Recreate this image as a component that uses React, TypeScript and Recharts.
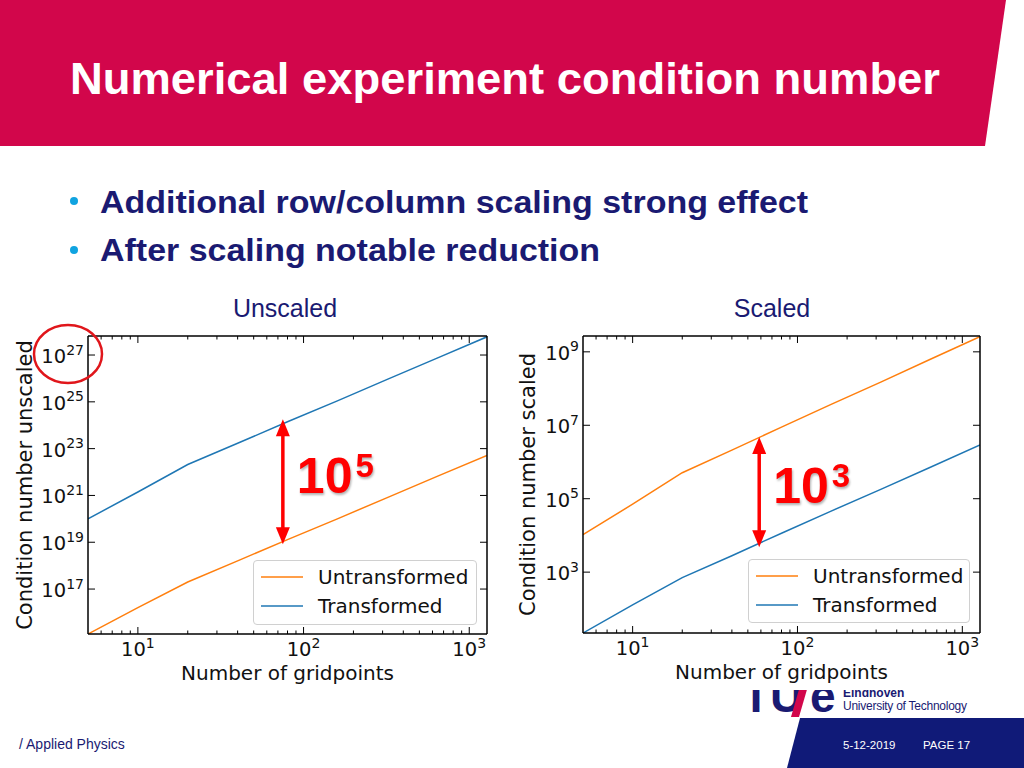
import React from 'react';
import { LineChart, Line, XAxis, YAxis, ReferenceLine, Legend } from 'recharts';

// gridpoints (doubling) and condition numbers
const gridpoints = [5, 10, 20, 40, 80, 160, 320, 640, 1280];
const unscaledUntransformed = [1.2e15, 1.6e16, 2.0e17, 1.6e18, 1.3e19, 1.0e20, 8.1e20, 6.5e21, 5.1e22];
const unscaledTransformed = [1.0e20, 1.4e21, 2.1e22, 1.7e23, 1.4e24, 1.1e25, 9.1e25, 7.4e26, 6.0e27];
const scaledUntransformed = [1.05e4, 7.1e4, 5.1e5, 2.1e6, 8.9e6, 3.7e7, 1.5e8, 6.3e8, 2.6e9];
const scaledTransformed = [22, 129, 708, 2.8e3, 1.15e4, 4.6e4, 1.8e5, 7.2e5, 2.9e6];

const seriesNames = ['Untransformed', 'Transformed'];
const seriesColors = ['#ff7f0e', '#1f77b4'];

const xDomain = [5, 1280];
const xMajorTicks = [10, 100, 1000];
const xMinorTicks = [6, 7, 8, 9, 20, 30, 40, 50, 60, 70, 80, 90, 200, 300, 400, 500, 600, 700, 800, 900];
const unscaledYDomain = [1.2e15, 6.5e27];
const unscaledYTicks = [1e17, 1e19, 1e21, 1e23, 1e25, 1e27];
const scaledYDomain = [22, 2.7e9];
const scaledYTicks = [1e3, 1e5, 1e7, 1e9];

// red annotation arrows: gridpoint, top and bottom of the arrow, exponent shown
const unscaledArrow = { x: 75, from: 1.8e24, to: 8.3e18, exponent: '5' };
const scaledArrow = { x: 58.6, from: 4.8e6, to: 4.8e3, exponent: '3' };

const NAVY = '#1a1a72';
const TICK_FONT = '"DejaVu Sans", sans-serif';

const allXTicks = [...xMajorTicks, ...xMinorTicks].sort((a, b) => a - b);
const expOf = (v: number) => Math.round(Math.log10(v));

const PowerLabel = ({ x, y, v, anchor }: any) => (
  <text x={x} y={y} textAnchor={anchor} fontFamily={TICK_FONT} fontSize={19.5} fill="#111">
    10<tspan fontSize={14} dy={-8.5}>{expOf(v)}</tspan>
  </text>
);

const BottomTick = (props: any) => {
  const { x, y, payload } = props;
  const major = xMajorTicks.includes(payload.value);
  return (
    <g>
      <line x1={x} x2={x} y1={y} y2={y - (major ? 7 : 3.5)} stroke="#000" />
      {major && <PowerLabel x={x} y={y + 22} v={payload.value} anchor="middle" />}
    </g>
  );
};

const TopTick = (props: any) => {
  const { x, y, payload } = props;
  const major = xMajorTicks.includes(payload.value);
  return <line x1={x} x2={x} y1={y} y2={y + (major ? 7 : 3.5)} stroke="#000" />;
};

const LeftTick = (props: any) => {
  const { x, y, payload } = props;
  return (
    <g>
      <line x1={x} x2={x + 7} y1={y} y2={y} stroke="#000" />
      <PowerLabel x={x - 4} y={y + 8} v={payload.value} anchor="end" />
    </g>
  );
};

const RightTick = (props: any) => {
  const { x, y } = props;
  return <line x1={x} x2={x - 7} y1={y} y2={y} stroke="#000" />;
};

const ArrowShape = (props: any) => {
  const { x1, y1, y2, exponent } = props;
  const top = Math.min(y1, y2);
  const bottom = Math.max(y1, y2);
  const mid = (top + bottom) / 2;
  return (
    <g>
      <line x1={x1} x2={x1} y1={top + 12} y2={bottom - 12} stroke="#f00" strokeWidth={3.5} />
      <polygon points={`${x1},${top} ${x1 - 7},${top + 17} ${x1 + 7},${top + 17}`} fill="#f00" />
      <polygon points={`${x1},${bottom} ${x1 - 7},${bottom - 17} ${x1 + 7},${bottom - 17}`} fill="#f00" />
      <text
        x={x1 + 14}
        y={mid + 11}
        fontFamily='"Liberation Sans", Arial, sans-serif'
        fontWeight="bold"
        fontSize={50}
        fill="#f00"
        style={{ filter: 'drop-shadow(1px 2px 1px rgba(0,0,0,0.3))' }}
      >
        10<tspan fontSize={33} dx={3} dy={-16}>{exponent}</tspan>
      </text>
    </g>
  );
};

const renderLegend = (props: any) => {
  const items = [...(props.payload || [])]
    .filter((a: any) => seriesNames.includes(a.value))
    .sort((a: any, b: any) => seriesNames.indexOf(a.value) - seriesNames.indexOf(b.value));
  return (
    <div
      style={{
        position: 'relative',
        width: '100%',
        height: '100%',
        boxSizing: 'border-box',
        border: '1px solid #d0d0d0',
        borderRadius: 4,
        background: 'rgba(255,255,255,0.9)',
      }}
    >
      {items.map((item: any, i: number) => (
        <div key={item.value} style={{ position: 'absolute', left: 0, top: 4 + i * 29, height: 24, width: '100%' }}>
          <svg width={60} height={24} style={{ position: 'absolute', left: 0, top: 0 }}>
            <line x1={7} x2={49} y1={12} y2={12} stroke={item.color} strokeWidth={1.5} />
          </svg>
          <span
            style={{
              position: 'absolute',
              left: 64,
              top: 0,
              lineHeight: '24px',
              fontFamily: TICK_FONT,
              fontSize: 20,
              color: '#111',
              whiteSpace: 'nowrap',
            }}
          >
            {item.value}
          </span>
        </div>
      ))}
    </div>
  );
};

type PanelProps = {
  left: number;
  width: number;
  yAxisWidth: number;
  marginRight: number;
  bottomHeight: number;
  yLabel: string;
  yLabelX: number;
  untransformed: number[];
  transformed: number[];
  yDomain: number[];
  yTicks: number[];
  arrow: { x: number; from: number; to: number; exponent: string };
  legendBox: { left: number; top: number; width: number; height: number };
};

const Panel = (p: PanelProps) => {
  const data = gridpoints.map((n, i) => ({ n, Untransformed: p.untransformed[i], Transformed: p.transformed[i] }));
  return (
    <div style={{ position: 'absolute', left: p.left, top: 320, width: p.width, height: 370, background: '#fff' }}>
      <LineChart
        width={p.width}
        height={370}
        data={data}
        margin={{ top: 15, right: p.marginRight - 1, bottom: 0, left: 0 }}
      >
        <XAxis
          dataKey="n"
          type="number"
          scale="log"
          domain={xDomain}
          allowDataOverflow
          ticks={allXTicks}
          interval={0}
          height={p.bottomHeight}
          tickLine={false}
          tickSize={0}
          tickMargin={0}
          axisLine={{ stroke: '#000', strokeWidth: 1.5 }}
          tick={<BottomTick />}
          label={{
            content: (lp: any) => {
              const vb = lp.viewBox;
              return (
                <text x={vb.x + vb.width / 2} y={vb.y + 46} textAnchor="middle" fontFamily={TICK_FONT} fontSize={20} fill="#111">
                  Number of gridpoints
                </text>
              );
            },
          }}
        />
        <XAxis
          xAxisId="top"
          orientation="top"
          dataKey="n"
          type="number"
          scale="log"
          domain={xDomain}
          allowDataOverflow
          ticks={allXTicks}
          interval={0}
          height={1}
          tickLine={false}
          tickSize={0}
          tickMargin={0}
          axisLine={{ stroke: '#000', strokeWidth: 1.5 }}
          tick={<TopTick />}
        />
        <YAxis
          type="number"
          scale="log"
          domain={p.yDomain}
          allowDataOverflow
          ticks={p.yTicks}
          interval={0}
          width={p.yAxisWidth}
          tickLine={false}
          tickSize={0}
          tickMargin={0}
          axisLine={{ stroke: '#000', strokeWidth: 1.5 }}
          tick={<LeftTick />}
          label={{
            content: (lp: any) => {
              const vb = lp.viewBox;
              const cx = vb.x + p.yLabelX;
              const cy = vb.y + vb.height / 2;
              return (
                <text
                  x={cx}
                  y={cy}
                  transform={`rotate(-90, ${cx}, ${cy})`}
                  textAnchor="middle"
                  fontFamily={TICK_FONT}
                  fontSize={21}
                  fill="#111"
                >
                  {p.yLabel}
                </text>
              );
            },
          }}
        />
        <YAxis
          yAxisId="right"
          orientation="right"
          type="number"
          scale="log"
          domain={p.yDomain}
          allowDataOverflow
          ticks={p.yTicks}
          interval={0}
          width={1}
          tickLine={false}
          tickSize={0}
          tickMargin={0}
          axisLine={{ stroke: '#000', strokeWidth: 1.5 }}
          tick={<RightTick />}
        />
        <Legend
          layout="vertical"
          align="center"
          verticalAlign="middle"
          wrapperStyle={{ ...p.legendBox }}
          content={renderLegend}
        />
        {/* invisible copy bound to the top/right axes so the frame axes get drawn */}
        <Line
          xAxisId="top"
          yAxisId="right"
          dataKey="Transformed"
          name="frame"
          stroke="none"
          legendType="none"
          dot={false}
          activeDot={false}
          isAnimationActive={false}
        />
        {seriesNames.map((name, i) => (
          <Line
            key={name}
            dataKey={name}
            name={name}
            stroke={seriesColors[i]}
            strokeWidth={1.5}
            dot={false}
            activeDot={false}
            isAnimationActive={false}
          />
        ))}
        <ReferenceLine
          segment={[
            { x: p.arrow.x, y: p.arrow.from },
            { x: p.arrow.x, y: p.arrow.to },
          ]}
          ifOverflow="visible"
          shape={(sp: any) => <ArrowShape {...sp} exponent={p.arrow.exponent} />}
        />
      </LineChart>
    </div>
  );
};

export default function App() {
  const sans = '"Liberation Sans", Arial, Helvetica, sans-serif';
  return (
    <div
      style={{
        position: 'absolute',
        left: 0,
        top: 0,
        width: 1024,
        height: 768,
        background: '#fff',
        overflow: 'hidden',
        fontFamily: sans,
      }}
    >
      <svg width={1024} height={768} style={{ position: 'absolute', left: 0, top: 0 }}>
        <polygon points="0,0 1006,0 985,146 0,146" fill="#d2064b" />
        <text x={70} y={94} fontFamily={sans} fontWeight="bold" fontSize={44} fill="#fff" textLength={870} lengthAdjust="spacingAndGlyphs">
          Numerical experiment condition number
        </text>

        <circle cx={74} cy={201} r={4} fill="#10a3e0" />
        <text x={100} y={213} fontFamily={sans} fontWeight="bold" fontSize={32} fill={NAVY} textLength={708} lengthAdjust="spacingAndGlyphs">
          Additional row/column scaling strong effect
        </text>
        <circle cx={74} cy={250} r={4} fill="#10a3e0" />
        <text x={100} y={261} fontFamily={sans} fontWeight="bold" fontSize={32} fill={NAVY} textLength={500} lengthAdjust="spacingAndGlyphs">
          After scaling notable reduction
        </text>

        <text x={285} y={317} textAnchor="middle" fontFamily={sans} fontSize={25} fill={NAVY}>
          Unscaled
        </text>
        <text x={772} y={317} textAnchor="middle" fontFamily={sans} fontSize={25} fill={NAVY}>
          Scaled
        </text>

        {/* TU/e logo, top part hidden behind the right panel */}
        <svg x={730} y={689} width={260} height={30} overflow="hidden">
          <text x={12} y={23} fontFamily={sans} fontWeight="bold" fontSize={46} fill={NAVY}>
            TU
          </text>
          <polygon points="70,-3 78,-3 69,28 61,28" fill="#d2064b" />
          <text x={80} y={23} fontFamily={sans} fontWeight="bold" fontSize={46} fill={NAVY}>
            e
          </text>
          <text x={113} y={8} fontFamily={sans} fontWeight="bold" fontSize={12} fill={NAVY}>
            Eindhoven
          </text>
        </svg>
        <text x={843} y={710} fontFamily={sans} fontSize={12} fill={NAVY} textLength={124}>
          University of Technology
        </text>

        <polygon points="800,718 1024,718 1024,768 787,768" fill="#101a78" />
        <text x={843} y={749} fontFamily={sans} fontSize={11.5} fill="#fff">
          5-12-2019
        </text>
        <text x={923} y={749} fontFamily={sans} fontSize={11.5} fill="#fff">
          PAGE 17
        </text>
        <text x={19} y={749} fontFamily={sans} fontSize={14} fill={NAVY}>
          / Applied Physics
        </text>
      </svg>

      <Panel
        left={0}
        width={500}
        yAxisWidth={88}
        marginRight={13}
        bottomHeight={56}
        yLabel="Condition number unscaled"
        yLabelX={32}
        untransformed={unscaledUntransformed}
        transformed={unscaledTransformed}
        yDomain={unscaledYDomain}
        yTicks={unscaledYTicks}
        arrow={unscaledArrow}
        legendBox={{ left: 253, top: 240, width: 224, height: 65 }}
      />
      <Panel
        left={510}
        width={490}
        yAxisWidth={73}
        marginRight={20}
        bottomHeight={57}
        yLabel="Condition number scaled"
        yLabelX={25}
        untransformed={scaledUntransformed}
        transformed={scaledTransformed}
        yDomain={scaledYDomain}
        yTicks={scaledYTicks}
        arrow={scaledArrow}
        legendBox={{ left: 238, top: 239, width: 222, height: 64 }}
      />

      <svg width={1024} height={768} style={{ position: 'absolute', left: 0, top: 0, pointerEvents: 'none' }}>
        <ellipse cx={68} cy={354} rx={34} ry={29} fill="none" stroke="#e0161b" strokeWidth={2.5} />
      </svg>
    </div>
  );
}
